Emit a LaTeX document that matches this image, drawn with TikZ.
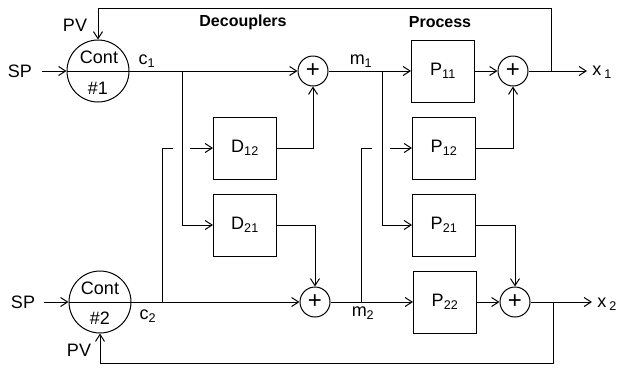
\documentclass[tikz,border=0pt]{standalone}
\usepackage{fontspec}
\setmainfont{Liberation Sans}
\usetikzlibrary{arrows.meta}
\begin{document}
\begin{tikzpicture}[x=1pt,y=-1pt,
  line width=1pt,
  arr/.style={-{Straight Barb[length=7pt,width=9pt]}},
  ctrl/.style={circle,draw,minimum size=62pt,inner sep=0pt},
  sumnode/.style={circle,draw,minimum size=30pt,inner sep=0pt,font=\fontsize{24}{24}\selectfont},
  blk/.style={draw,minimum width=63pt,minimum height=62pt,inner sep=0pt,font=\fontsize{18}{20}\selectfont},
  lbl/.style={font=\fontsize{18}{20}\selectfont,inner sep=0pt},
  head/.style={font=\bfseries\fontsize{16}{18}\selectfont,inner sep=0pt},
]
\useasboundingbox (0,0) rectangle (621,368);

% controllers
\node[ctrl] (cont1) at (98,71) {};
\node[lbl] (cont1t) at (99,57) {Cont};
\node[lbl] (cont1n) at (98,88) {\#1};
\node[ctrl] (cont2) at (100,302) {};
\node[lbl] (cont2t) at (100,288) {Cont};
\node[lbl] (cont2n) at (100,318) {\#2};

% summing junctions
\node[sumnode] (sum1) at (313,71) {+};
\node[sumnode] (sum2) at (315,302) {+};
\node[sumnode] (sum3) at (513,71) {+};
\node[sumnode] (sum4) at (515,302) {+};

% blocks
\node[blk] (D12) at (245,148) {D\textsubscript{12}};
\node[blk] (D21) at (245,225) {D\textsubscript{21}};
\node[blk] (P11) at (443,71) {P\textsubscript{11}};
\node[blk] (P12) at (444,148) {P\textsubscript{12}};
\node[blk] (P21) at (444,225) {P\textsubscript{21}};
\node[blk] (P22) at (445,302) {P\textsubscript{22}};

% labels
\node[lbl] (sp1) at (20,71) {SP};
\node[lbl] (sp2) at (23,302) {SP};
\node[lbl] (pv1) at (75,25) {PV};
\node[lbl] (pv2) at (79,350) {PV};
\node[lbl] (c1) at (147,61) {c\textsubscript{1}};
\node[lbl] (c2) at (148,316) {c\textsubscript{2}};
\node[lbl] (m1) at (361,61) {m\textsubscript{1}};
\node[lbl] (m2) at (363,313) {m\textsubscript{2}};
\node[head] (hdec) at (243,22) {Decouplers};
\node[head] (hproc) at (440,22) {Process};
\node[lbl] (x1) at (602,72) {x\,\textsubscript{1}};
\node[lbl] (x2) at (607,304) {x\,\textsubscript{2}};

% coordinates
\coordinate (sp1e) at (42,71);
\coordinate (sp2e) at (44,302);
\coordinate (b1) at (182,71);
\coordinate (b2) at (162,302);
\coordinate (b2t) at (162,148);
\coordinate (g1a) at (173,148);
\coordinate (g1b) at (190,148);
\coordinate (bm1) at (382,71);
\coordinate (bm2) at (361,302);
\coordinate (bm2t) at (361,148);
\coordinate (g2a) at (372,148);
\coordinate (g2b) at (390,148);
\coordinate (out1) at (587,71);
\coordinate (out2) at (592,302);
\coordinate (fb1) at (551,71);
\coordinate (fb1t) at (551,8);
\coordinate (fb2) at (553,302);
\coordinate (fb2b) at (553,363);

% controller 1 signals
\draw[arr] (sp1e) -- (cont1.west);
\draw (cont1.west) -- (cont1.east);
\draw[arr] (cont1.east) -- (sum1.west);
\draw[arr] (b1) |- (D21.west);
% controller 2 signals
\draw[arr] (sp2e) -- (cont2.west);
\draw (cont2.west) -- (cont2.east);
\draw[arr] (cont2.east) -- (sum2.west);
\draw (b2) -- (b2t) -- (g1a);
\draw[arr] (g1b) -- (D12.west);
% decoupler outputs
\draw[arr] (D12.east) -| (sum1.south);
\draw[arr] (D21.east) -| (sum2.north);
% manipulated variables
\draw[arr] (sum1.east) -- (P11.west);
\draw[arr] (bm1) |- (P21.west);
\draw[arr] (sum2.east) -- (P22.west);
\draw (bm2) -- (bm2t) -- (g2a);
\draw[arr] (g2b) -- (P12.west);
% process outputs
\draw[arr] (P11.east) -- (sum3.west);
\draw[arr] (P12.east) -| (sum3.south);
\draw[arr] (P21.east) -| (sum4.north);
\draw[arr] (P22.east) -- (sum4.west);
\draw[arr] (sum3.east) -- (out1);
\draw[arr] (sum4.east) -- (out2);
% feedback
\draw[arr] (fb1) -- (fb1t) -| (cont1.north);
\draw[arr] (fb2) -- (fb2b) -| (cont2.south);
\end{tikzpicture}
\end{document}
